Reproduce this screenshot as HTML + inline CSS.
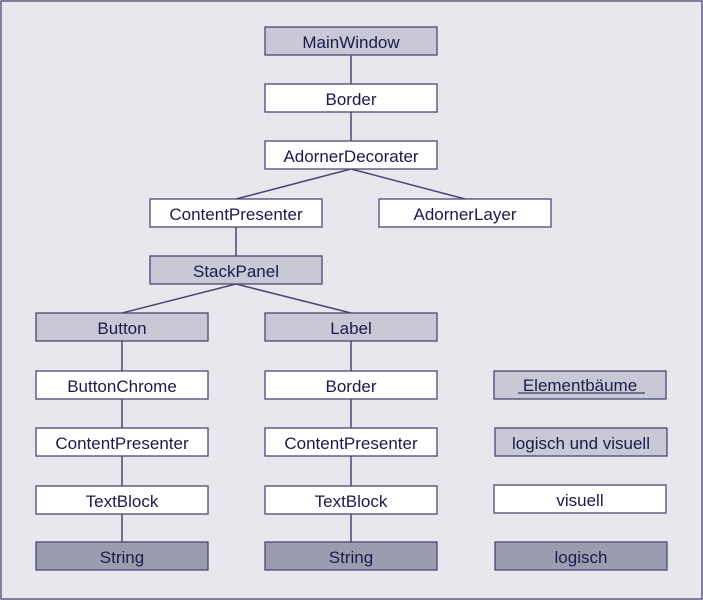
<!DOCTYPE html>
<html><head><meta charset="utf-8"><style>
html,body{margin:0;padding:0;background:#e8e7ed}
svg{display:block}
text{font-family:"Liberation Sans",sans-serif;font-size:17px;fill:#1c1a4a;text-anchor:middle}
rect{stroke:#4a4870;stroke-width:1.3}
.w{fill:#fff}.g{fill:#c8c8d6}.d{fill:#9c9cb0}
line{stroke:#4a4870;stroke-width:1.5}
</style></head><body>
<svg width="703" height="600" viewBox="0 0 703 600">
<rect x="1" y="1" width="701" height="598" fill="#e8e7ed" stroke="#4a4870" stroke-width="2"/>
<line x1="351" y1="55" x2="351" y2="84"/>
<line x1="351" y1="112" x2="351" y2="141"/>
<line x1="351" y1="169" x2="236" y2="199"/>
<line x1="351" y1="169" x2="465" y2="199"/>
<line x1="236" y1="227" x2="236" y2="256"/>
<line x1="236" y1="284" x2="122" y2="313"/>
<line x1="236" y1="284" x2="351" y2="313"/>
<line x1="122" y1="341" x2="122" y2="542"/>
<line x1="351" y1="341" x2="351" y2="542"/>
<rect class="g" x="265" y="27" width="172" height="28"/><text x="351" y="48">MainWindow</text>
<rect class="w" x="265" y="84" width="172" height="28"/><text x="351" y="105">Border</text>
<rect class="w" x="265" y="141" width="172" height="28"/><text x="351" y="162">AdornerDecorater</text>
<rect class="w" x="150" y="199" width="172" height="28"/><text x="236" y="220">ContentPresenter</text>
<rect class="w" x="379" y="199" width="172" height="28"/><text x="465" y="220">AdornerLayer</text>
<rect class="g" x="150" y="256" width="172" height="28"/><text x="236" y="277">StackPanel</text>
<rect class="g" x="36" y="313" width="172" height="28"/><text x="122" y="334">Button</text>
<rect class="g" x="265" y="313" width="172" height="28"/><text x="351" y="334">Label</text>
<rect class="w" x="36" y="371" width="172" height="28"/><text x="122" y="392">ButtonChrome</text>
<rect class="w" x="265" y="371" width="172" height="28"/><text x="351" y="392">Border</text>
<rect class="w" x="36" y="428" width="172" height="28"/><text x="122" y="449">ContentPresenter</text>
<rect class="w" x="265" y="428" width="172" height="28"/><text x="351" y="449">ContentPresenter</text>
<rect class="w" x="36" y="486" width="172" height="28"/><text x="122" y="507">TextBlock</text>
<rect class="w" x="265" y="486" width="172" height="28"/><text x="351" y="507">TextBlock</text>
<rect class="d" x="36" y="542" width="172" height="28"/><text x="122" y="563">String</text>
<rect class="d" x="265" y="542" width="172" height="28"/><text x="351" y="563">String</text>
<rect class="g" x="494" y="371" width="172" height="28"/><text x="580" y="391">Elementbäume</text>
<line x1="518" y1="393" x2="645" y2="393" style="stroke:#1c1a4a;stroke-width:1"/>
<rect class="g" x="495" y="428" width="172" height="28"/><text x="581" y="449">logisch und visuell</text>
<rect class="w" x="494" y="485" width="172" height="28"/><text x="580" y="506">visuell</text>
<rect class="d" x="495" y="542" width="172" height="28"/><text x="581" y="563">logisch</text>
</svg>
</body></html>
